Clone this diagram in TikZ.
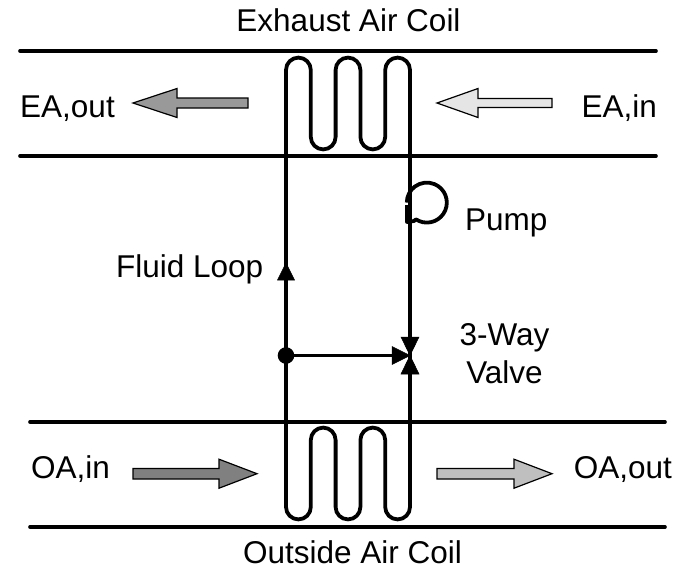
\documentclass[tikz,border=0pt]{standalone}
\usepackage{fontspec}
\setmainfont{Liberation Sans}
\tikzset{
  lbl/.style={inner sep=0pt,font=\fontsize{31.5}{36}\selectfont,text=black},
  duct/.style={line width=3.6pt,black,line cap=round},
  loopline/.style={line width=3.8pt,black,line join=round},
  head/.style={fill=black,draw=black,line width=0.5pt,line join=miter},
  airarrow/.style={draw=black,line width=1.2pt,line join=miter},
}
\begin{document}
\begin{tikzpicture}[x=1pt,y=-1pt]
\useasboundingbox (0,0) rectangle (685,568);
% ducts
\coordinate (d1a) at (20,51);  \coordinate (d1b) at (656,51);
\coordinate (d2a) at (20,156); \coordinate (d2b) at (656,156);
\coordinate (d3a) at (30,422); \coordinate (d3b) at (665,422);
\coordinate (d4a) at (30,527); \coordinate (d4b) at (665,527);
\draw[duct] (d1a) -- (d1b);
\draw[duct] (d2a) -- (d2b);
\draw[duct] (d3a) -- (d3b);
\draw[duct] (d4a) -- (d4b);
% key points
\coordinate (junction) at (286,355.5);
\coordinate (valve) at (410,355.5);
% fluid loop with both coils
\def\r{12.4}
\draw[loopline] (valve)
  -- (410,507) arc[start angle=0,end angle=180,radius=\r]
  -- (385.2,440) arc[start angle=360,end angle=180,radius=\r]
  -- (360.4,507) arc[start angle=0,end angle=180,radius=\r]
  -- (335.6,440) arc[start angle=360,end angle=180,radius=\r]
  -- (310.8,507) arc[start angle=0,end angle=180,radius=\r]
  -- (286,70) arc[start angle=180,end angle=360,radius=\r]
  -- (310.8,137) arc[start angle=180,end angle=0,radius=\r]
  -- (335.6,70) arc[start angle=180,end angle=360,radius=\r]
  -- (360.4,137) arc[start angle=180,end angle=0,radius=\r]
  -- (385.2,70) arc[start angle=180,end angle=360,radius=\r]
  -- (valve);
% branch
\draw[loopline] (junction) -- (394,355.5);
\fill (junction) circle[radius=8.3];
% valve heads
\path[head] (valve) -- (392,346.5) -- (392,364.5) -- cycle;
\path[head] (valve) -- (401,337) -- (419,337) -- cycle;
\path[head] (valve) -- (401,374) -- (419,374) -- cycle;
% loop direction head
\path[head] (286,263) -- (277.5,280) -- (294.5,280) -- cycle;
% pump
\draw[loopline] (407,205) -- (407,222) -- (414,221)
  .. controls (415,219) and (416,219) .. (419,221)
  arc[start angle=113,end angle=-180,radius=20];
% air arrows
\draw[airarrow,fill=black!40] (133,103) -- (177,88.5) -- (177,98) -- (248,98) -- (248,108) -- (177,108) -- (177,117.5) -- cycle;
\draw[airarrow,fill=black!10] (437,103) -- (478,88.5) -- (478,98.5) -- (552,98.5) -- (552,107.5) -- (478,107.5) -- (478,117.5) -- cycle;
\draw[airarrow,fill=black!50] (257,473.7) -- (219,459.2) -- (219,468.5) -- (133,468.5) -- (133,479) -- (219,479) -- (219,488.2) -- cycle;
\draw[airarrow,fill=black!25] (552,473.7) -- (514,459.2) -- (514,468.5) -- (437,468.5) -- (437,479) -- (514,479) -- (514,488.2) -- cycle;
% labels
\node[lbl,anchor=base] (tExh) at (348.5,31) {Exhaust Air Coil};
\node[lbl,anchor=base] (tOut) at (352.5,563.3) {Outside Air Coil};
\node[lbl,anchor=base west] (tEAo) at (20,117) {EA,out};
\node[lbl,anchor=base east] (tEAi) at (657,117) {EA,in};
\node[lbl,anchor=base west] (tOAi) at (31,478) {OA,in};
\node[lbl,anchor=base east] (tOAo) at (672,478) {OA,out};
\node[lbl,anchor=base west] (tFl) at (116,277) {Fluid Loop};
\node[lbl,anchor=base west] (tPu) at (465,230) {Pump};
\node[lbl,anchor=base] (tVa1) at (504.5,345) {3-Way};
\node[lbl,anchor=base] (tVa2) at (504.5,383) {Valve};
\end{tikzpicture}
\end{document}
